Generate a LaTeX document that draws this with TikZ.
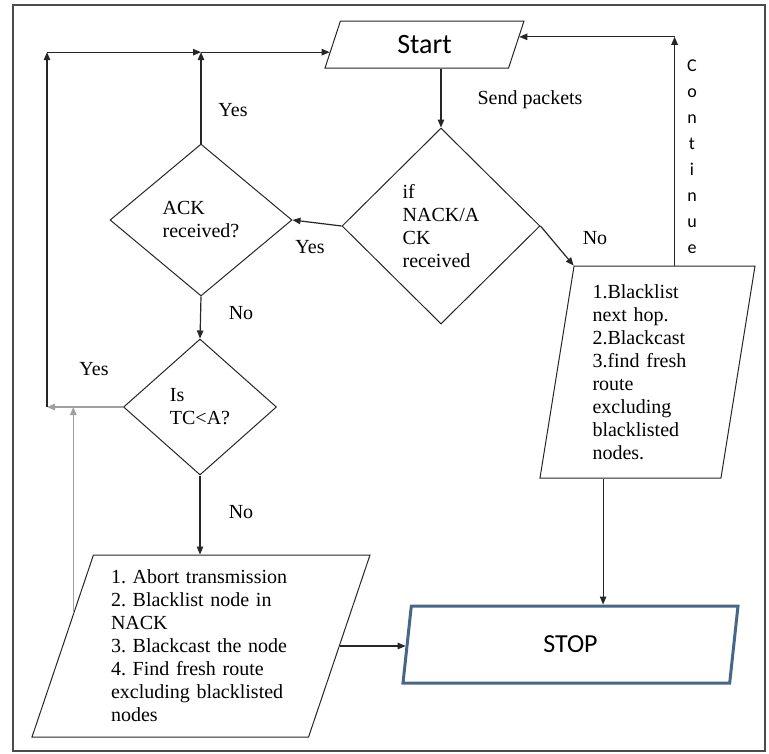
\documentclass[tikz,border=0pt]{standalone}
\usepackage{fontspec}
\setmainfont{Liberation Serif}
\newfontfamily\calfont{Carlito}
\usetikzlibrary{positioning,calc,shapes.geometric,arrows.meta}
\definecolor{stopblue}{RGB}{72,102,138}
\frenchspacing

\begin{document}
\begin{tikzpicture}[x=1pt,y=-1pt,>={Triangle[length=8pt,width=6.5pt]},
  every node/.style={font=\fontsize{20}{23}\selectfont},
  decision/.style={diamond,draw=black!85,line width=1pt,inner sep=0pt,align=left},
  iobox/.style={trapezium,draw=black!85,line width=1pt,trapezium stretches body,inner sep=0pt,align=left},
  flow/.style={->,line width=1.2pt,draw=black!85},
  weak/.style={->,line width=1.2pt,draw=gray!75}]
\useasboundingbox (0,0) rectangle (769,753);
\draw[black!70,line width=1.5pt] (13,5) rectangle (765,751);
% boxes and decisions
\node[iobox,trapezium left angle=50,trapezium right angle=130,minimum width=199,minimum height=47] (start) at (424.5,44.5) {\calfont\fontsize{28}{30}\selectfont Start};
\node[decision,minimum width=198,minimum height=196] (nack) at (441,226) {if\\NACK/A\\CK\\received};
\node[decision,minimum width=182,minimum height=152] (ack) at (201,220) {ACK\\received?};
\node[decision,minimum width=153,minimum height=136] (tca) at (200,407) {Is\\TC<A?};
\node[iobox,trapezium left angle=79,trapezium right angle=101,minimum width=215,minimum height=212,text width=110] (bl) at (647.5,372)
  {1.Blacklist\\next hop.\\2.Blackcast\\3.find fresh\\route\\excluding\\blacklisted\\nodes.};
\node[iobox,trapezium left angle=68,trapezium right angle=112,minimum width=338,minimum height=182,text width=180] (abort) at (201,646)
  {1. Abort transmission\\2. Blacklist node in\\NACK\\3. Blackcast the node\\4. Find fresh route\\excluding blacklisted\\nodes};
\node[iobox,draw=stopblue,line width=3pt,trapezium left angle=64,trapezium right angle=116,minimum width=335,minimum height=77] (stop) at (570.5,644.5) {\calfont\fontsize{26}{28}\selectfont STOP};
% labels
\node (send) at (530,100) {Send packets};
\node (yesack) at (233,110) {Yes};
\node (yesnack) at (310,247) {Yes};
\node (nonack) at (595,238) {No};
\node (noack) at (241,313) {No};
\node (yestca) at (94,369) {Yes};
\node (notca) at (241,512) {No};
\foreach \ch [count=\i from 0] in {C,o,n,t,i,n,u,e}
  \node[anchor=base,font=\calfont\fontsize{18}{18}\selectfont] (cont\i) at (692,71+26*\i) {\ch};
% helper points
\coordinate (startin) at ($(start.bottom left corner)!0.34!(start.top left corner)$);
\coordinate (startout) at ($(start.bottom right corner)!0.66!(start.top right corner)$);
\coordinate (rail) at (47,0);
\coordinate (topA) at (ack.north |- startin);
\coordinate (cornerTL) at (rail |- startin);
\coordinate (cornerL) at (rail |- tca.west);
\coordinate (abortleft) at ($(abort.bottom left corner)!0.68!(abort.top left corner)$);
\coordinate (blbot) at ($(bl.bottom left corner)!0.35!(bl.bottom right corner)$);
\coordinate (bltop) at ($(bl.top left corner)!0.555!(bl.top right corner)$);
\coordinate (cornerTR) at (bltop |- startout);
% connectors
\draw[flow] (nack.north |- start.south) -- (nack.north);
\draw[flow] (nack.west) -- (ack.east);
\draw[flow] (nack.east) -- (bl.top left corner);
\draw[flow] (ack.north) -- (topA);
\draw[flow] (ack.south) -- (tca.north);
\draw[flow] (tca.south) -- (tca.south |- abort.north);
\draw[weak] (tca.west) -- (cornerL);
\draw[flow] (cornerL) -- (cornerTL);
\draw[flow] (cornerTL) -- (topA);
\draw[flow] (topA) -- (startin);
\draw[weak] (abortleft) -- (abortleft |- tca.west);
\draw[flow] (abort.east) -- (abort.east -| stop.west);
\draw[flow] (blbot) -- (blbot |- stop.north);
\draw[flow] (bltop) -- (cornerTR);
\draw[flow] (cornerTR) -- (startout);
\end{tikzpicture}
\end{document}
